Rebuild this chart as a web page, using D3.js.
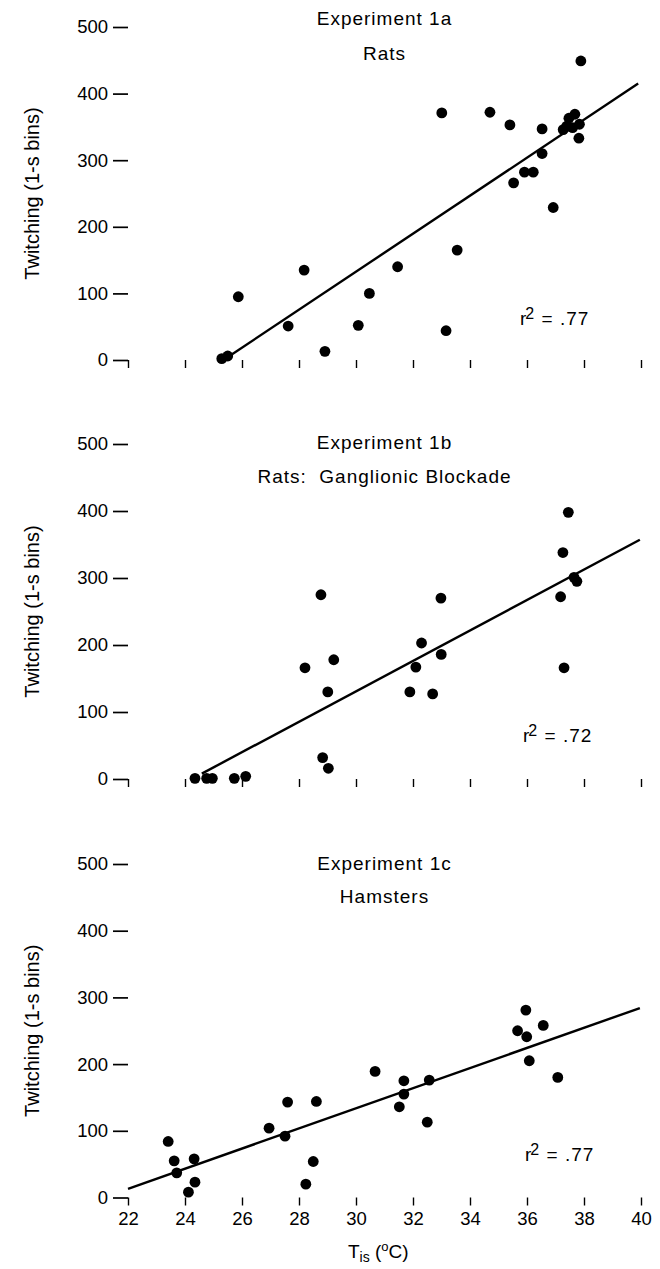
<!DOCTYPE html>
<html>
<head>
<meta charset="utf-8">
<script src="https://cdn.jsdelivr.net/npm/d3@7"></script>
<style>
  body { margin: 0; background: #fff; }
  svg { display: block; font-family: "Liberation Sans", Arial, Helvetica, sans-serif; }
</style>
</head>
<body>
<svg id="chart" width="660" height="1269"></svg>
<script>
// ---- data ----
const tempTicks = [22, 24, 26, 28, 30, 32, 34, 36, 38, 40];
const twitchTicks = [0, 100, 200, 300, 400, 500];

const titles = ["Experiment 1a", "Experiment 1b", "Experiment 1c"];
const subtitles = ["Rats", "Rats:  Ganglionic Blockade", "Hamsters"];
const rSquared = [".77", ".72", ".77"];

// Experiment 1a: rats
const ratsTemp = [25.29, 25.50, 25.87, 28.18, 27.62, 28.91, 30.08, 30.47, 31.46, 33.01,
                  34.70, 35.40, 36.53, 37.89, 33.55, 36.92, 35.53, 35.91, 36.22, 36.53,
                  37.27, 37.47, 37.68, 37.84, 37.60, 37.82, 37.39, 33.16];
const ratsTwitch = [2, 6, 95, 135, 51, 13, 52, 100, 140, 371,
                    372, 353, 347, 449, 165, 229, 266, 282, 282, 310,
                    346, 363, 369, 354, 349, 333, 351, 44];

// Experiment 1b: rats, ganglionic blockade
const blockTemp = [24.35, 24.76, 24.96, 25.73, 26.13, 28.77, 28.21, 29.22, 29.01, 28.83,
                   29.03, 32.30, 32.10, 31.89, 37.45, 37.26, 37.65, 37.75, 37.18, 37.30,
                   32.98, 32.99, 32.69];
const blockTwitch = [1, 1, 1, 1, 4, 275, 166, 178, 130, 32,
                     16, 203, 167, 130, 398, 338, 301, 295, 272, 166,
                     270, 186, 127];

// Experiment 1c: hamsters
const hamTemp = [23.41, 23.62, 23.71, 24.32, 24.35, 24.12, 26.95, 27.60, 27.51, 28.61,
                 28.50, 28.24, 30.67, 31.68, 31.68, 31.52, 32.57, 32.50, 35.96, 35.67,
                 35.99, 36.57, 36.08, 37.08];
const hamTwitch = [84, 55, 37, 58, 23, 8, 104, 143, 92, 144,
                   54, 20, 189, 175, 155, 136, 176, 113, 281, 250,
                   241, 258, 205, 180];

// regression lines: [start temp, start twitch, end temp, end twitch]
const fitStartTemp = [25.35, 24.59, 22.0];
const fitStartTwitch = [0, 8, 13];
const fitEndTemp = [39.9, 39.96, 39.96];
const fitEndTwitch = [415, 357, 284];

// ---- layout ----
const layout = [
  { y0: 360,    y500: 27,  titleY: 25,  subY: 60,  r2X: 520, r2Y: 325 },
  { y0: 779,    y500: 444, titleY: 449, subY: 483, r2X: 523, r2Y: 742 },
  { y0: 1197.5, y500: 864, titleY: 870, subY: 903, r2X: 525, r2Y: 1161 }
];
const xLeft = 128, xRight = 641;

const series = [
  { temp: ratsTemp, twitch: ratsTwitch },
  { temp: blockTemp, twitch: blockTwitch },
  { temp: hamTemp, twitch: hamTwitch }
];

const svg = d3.select("#chart");

const x = d3.scaleLinear().domain([22, 40]).range([xLeft, xRight]);

series.forEach((s, i) => {
  const L = layout[i];
  const y = d3.scaleLinear().domain([0, 500]).range([L.y0, L.y500]);
  const g = svg.append("g");

  // y axis (ticks only, no spine)
  const yAxis = g.append("g")
    .attr("transform", `translate(${xLeft},0)`)
    .call(d3.axisLeft(y).tickValues(twitchTicks).tickSize(15).tickPadding(5));
  yAxis.select(".domain").remove();
  yAxis.attr("font-size", 18.5).attr("font-family", null);
  yAxis.selectAll("line").attr("stroke-width", 1.7);
  yAxis.selectAll("text").attr("fill", "#000");

  // x axis ticks hanging from the zero line
  const xAxis = g.append("g")
    .attr("transform", `translate(0,${L.y0})`)
    .call(d3.axisBottom(x).tickValues(tempTicks).tickSize(8).tickPadding(6)
      .tickFormat(i === 2 ? d3.format("d") : () => ""));
  xAxis.select(".domain").remove();
  xAxis.attr("font-size", 18.5).attr("font-family", null);
  xAxis.selectAll("line").attr("stroke-width", 1.4);
  xAxis.selectAll("text").attr("fill", "#000");

  // y label
  g.append("text")
    .attr("transform", `translate(39,${(L.y0 + L.y500) / 2}) rotate(-90)`)
    .attr("text-anchor", "middle")
    .attr("font-size", 20)
    .text("Twitching (1-s bins)");

  // titles
  g.append("text")
    .attr("x", (xLeft + xRight) / 2).attr("y", L.titleY)
    .attr("text-anchor", "middle")
    .attr("font-size", 19).attr("letter-spacing", 1)
    .text(titles[i]);
  g.append("text")
    .attr("x", (xLeft + xRight) / 2).attr("y", L.subY)
    .attr("text-anchor", "middle")
    .attr("font-size", 19).attr("letter-spacing", 1)
    .style("white-space", "pre")
    .text(subtitles[i]);

  // regression line
  const line = d3.line().x(d => x(d[0])).y(d => y(d[1]));
  g.append("path")
    .datum([[fitStartTemp[i], fitStartTwitch[i]], [fitEndTemp[i], fitEndTwitch[i]]])
    .attr("d", line)
    .attr("fill", "none")
    .attr("stroke", "#000")
    .attr("stroke-width", 2.4);

  // points
  g.selectAll(".dot")
    .data(s.temp.map((t, k) => ({ t: t, v: s.twitch[k] })))
    .enter().append("circle")
    .attr("class", "dot")
    .attr("cx", d => x(d.t))
    .attr("cy", d => y(d.v))
    .attr("r", 5.4)
    .attr("fill", "#000");

  // r squared
  const r2 = g.append("text")
    .attr("x", L.r2X).attr("y", L.r2Y)
    .attr("font-size", 19).attr("letter-spacing", 1);
  r2.append("tspan").text("r");
  r2.append("tspan").attr("dx", -2).attr("dy", -6).attr("font-size", 16).text("2");
  r2.append("tspan").attr("dy", 6).style("white-space", "pre").text(" = " + rSquared[i]);
});

// x axis title
const xt = svg.append("text")
  .attr("x", 348).attr("y", 1258)
  .attr("font-size", 19);
xt.append("tspan").text("T");
xt.append("tspan").attr("dy", 4).attr("font-size", 14).text("is");
xt.append("tspan").attr("dy", -4).style("white-space", "pre").text(" (");
xt.append("tspan").attr("dy", -7).attr("font-size", 13).text("o");
xt.append("tspan").attr("dy", 7).text("C)");
</script>
</body>
</html>
